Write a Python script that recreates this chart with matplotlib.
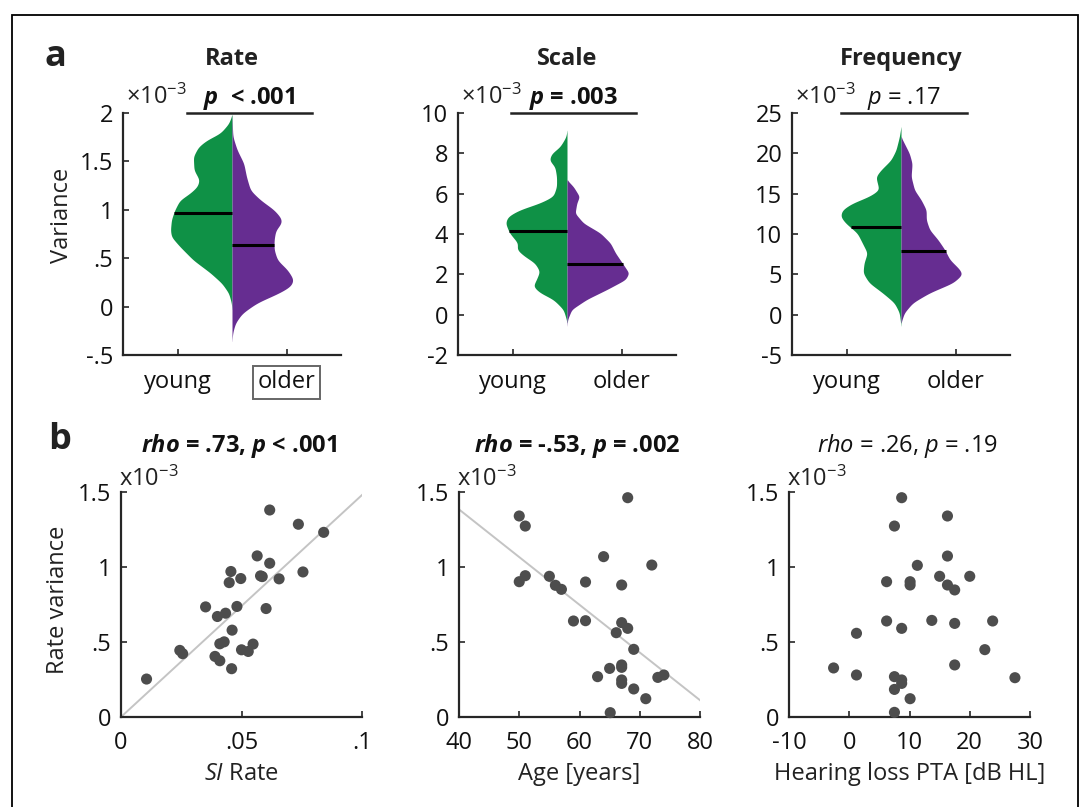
import numpy as np
import matplotlib
matplotlib.use("Agg")
import matplotlib.pyplot as plt
from matplotlib.patches import Rectangle

plt.rcParams['font.family'] = ['Open Sans', 'DejaVu Sans']
plt.rcParams['mathtext.fontset'] = 'custom'
plt.rcParams['mathtext.rm'] = 'Open Sans'
plt.rcParams['mathtext.it'] = 'Open Sans:italic'
plt.rcParams['mathtext.bf'] = 'Open Sans:bold'
plt.rcParams['mathtext.bfit'] = 'Open Sans:bold:italic'

# ---------------- data ----------------
groups = ["young", "older"]
violin_titles = ["Rate", "Scale", "Frequency"]
violin_pvals = [r"$\mathbfit{p}$  < .001", r"$\mathbfit{p}$ = .003", r"$\mathit{p}$ = .17"]
violin_pbold = [True, True, False]

# violin outlines: variance level (x10^-3) and relative density (young / older)
rate_young_y = [1.98, 1.89, 1.79, 1.72, 1.65, 1.55, 1.41, 1.31, 1.24, 1.17, 1.10, 1.00, 0.90, 0.79, 0.72, 0.62, 0.48, 0.35, 0.24, 0.14, 0.04, -0.03]
rate_young_d = [0, 10, 35, 75, 100, 115, 113, 97, 103, 125, 155, 170, 180, 183, 180, 155, 115, 65, 30, 10, 2, 0]
rate_older_y = [1.98, 1.79, 1.75, 1.62, 1.48, 1.34, 1.20, 1.10, 1.00, 0.91, 0.86, 0.79, 0.69, 0.59, 0.48, 0.38, 0.28, 0.21, 0.14, 0.04, -0.07, -0.17, -0.27, -0.36]
rate_older_d = [0, 2, 3, 15, 35, 43, 55, 85, 125, 147, 147, 130, 125, 125, 135, 165, 183, 175, 140, 75, 30, 10, 2, 0]

scale_young_y = [9.14, 8.82, 8.32, 7.99, 7.66, 7.34, 6.84, 6.35, 5.86, 5.53, 5.20, 4.87, 4.54, 4.05, 3.55, 3.22, 2.89, 2.57, 2.15, 1.74, 1.41, 1.09, 0.76, 0.26, -0.23, -0.39]
scale_young_d = [0, 3, 21, 46, 53, 36, 31, 31, 41, 81, 141, 176, 183, 171, 146, 149, 126, 96, 81, 91, 101, 81, 41, 11, 2, 0]
scale_older_y = [6.68, 6.35, 5.86, 5.53, 5.03, 4.54, 4.05, 3.55, 3.06, 2.57, 2.07, 1.74, 1.25, 0.76, 0.26, -0.23, -0.56]
scale_older_d = [0, 19, 37, 29, 24, 49, 99, 129, 144, 164, 184, 174, 119, 59, 14, 2, 0]

freq_young_y = [23.27, 22.04, 20.39, 19.16, 17.93, 17.11, 16.28, 15.46, 14.64, 13.82, 12.99, 12.17, 11.35, 10.12, 8.88, 7.65, 6.41, 5.18, 3.95, 2.71, 1.48, 0.25, -1.40]
freq_young_d = [0, 5, 15, 30, 60, 75, 70, 65, 95, 145, 175, 180, 165, 130, 115, 100, 110, 113, 95, 55, 20, 5, 0]
freq_older_y = [22.04, 21.22, 19.98, 18.75, 17.11, 15.46, 14.23, 12.99, 11.76, 10.53, 9.29, 8.06, 6.83, 5.59, 4.98, 3.95, 2.71, 1.48, 0.25, -0.99]
freq_older_d = [0, 10, 25, 33, 30, 40, 60, 75, 75, 85, 110, 130, 145, 175, 182, 155, 85, 35, 10, 0]

medians_rate = [0.97, 0.64]
medians_scale = [4.14, 2.50]
medians_freq = [10.81, 7.85]

ylim_top = [(-0.5, 2.0), (-2, 10), (-5, 25)]
yticks_top = [[-0.5, 0, 0.5, 1, 1.5, 2], [-2, 0, 2, 4, 6, 8, 10], [-5, 0, 5, 10, 15, 20, 25]]
yticklabels_top = [["-.5", "0", ".5", "1", "1.5", "2"],
                   ["-2", "0", "2", "4", "6", "8", "10"],
                   ["-5", "0", "5", "10", "15", "20", "25"]]

# scatter: rate variance (x10^-3) of older listeners
si_rate = [0.0106, 0.0244, 0.0256, 0.0351, 0.0390, 0.0410, 0.0400, 0.0434, 0.0410, 0.0428, 0.0459, 0.0461, 0.0456, 0.0449, 0.0497,
           0.0481, 0.0500, 0.0528, 0.0548, 0.0565, 0.0579, 0.0586, 0.0602, 0.0617, 0.0617, 0.0656, 0.0736, 0.0755, 0.0841]
var_vs_si = [0.253, 0.444, 0.422, 0.734, 0.404, 0.375, 0.670, 0.692, 0.488, 0.501, 0.322, 0.579, 0.970, 0.896, 0.923,
             0.737, 0.448, 0.437, 0.486, 1.074, 0.941, 0.936, 0.723, 1.025, 1.380, 0.921, 1.285, 0.967, 1.231]

age = [50, 51, 50, 51, 55, 56, 57, 59, 61, 61, 63, 64, 65, 65.1, 66.1, 67, 67, 67, 67, 67, 67, 68, 68, 69, 69, 71, 72, 73, 74]
var_vs_age = [1.34, 1.273, 0.902, 0.942, 0.938, 0.878, 0.851, 0.640, 0.642, 0.900, 0.269, 1.069, 0.324, 0.029, 0.562,
              0.629, 0.880, 0.347, 0.331, 0.247, 0.224, 0.591, 1.462, 0.187, 0.451, 0.122, 1.013, 0.264, 0.280]

pta = [-2.6, 1.2, 1.2, 6.2, 6.2, 7.5, 7.5, 7.5, 7.5, 8.7, 8.7, 8.7, 8.7, 10.1, 10.1, 10.1, 11.3, 13.7, 15.0,
       16.3, 16.3, 16.3, 17.5, 17.5, 17.5, 20.0, 22.5, 23.8, 27.5]
var_vs_pta = [0.327, 0.558, 0.280, 0.902, 0.640, 1.273, 0.269, 0.184, 0.031, 1.462, 0.591, 0.247, 0.224, 0.902, 0.880,
              0.122, 1.011, 0.644, 0.938, 1.340, 1.073, 0.880, 0.847, 0.624, 0.347, 0.938, 0.449, 0.640, 0.262]

fit_slope = [14.8, -0.0318]
fit_intercept = [0.0, 2.656]

scatter_titles = [r"$\mathbfit{rho}$ = .73, $\mathbfit{p}$ < .001",
                  r"$\mathbfit{rho}$ = -.53, $\mathbfit{p}$ = .002",
                  r"$\mathit{rho}$ = .26, $\mathit{p}$ = .19"]
scatter_bold = [True, True, False]
scatter_xlabels = [r"$\mathit{SI}$ Rate", "Age [years]", "Hearing loss PTA [dB HL]"]
xlim_b = [(0, 0.1), (40, 80), (-10, 30)]
xticks_b = [[0, 0.05, 0.1], [40, 50, 60, 70, 80], [-10, 0, 10, 20, 30]]
xticklabels_b = [["0", ".05", ".1"], ["40", "50", "60", "70", "80"], ["-10", "0", "10", "20", "30"]]
yticks_b = [0, 0.5, 1, 1.5]
yticklabels_b = ["0", ".5", "1", "1.5"]

# ---------------- style ----------------
W, H = 1090, 807
GREEN = "#0f9146"
PURPLE = "#662d91"
DOT = "#4d4d4d"
FITC = "#c4c4c4"
AXC = "#262626"
FS = 17
DENS_SCALE = 1.0 / 324.0

def fx(px):
    return px / W

def fy(py):
    return 1 - py / H

fig = plt.figure(figsize=(W / 100, H / 100), dpi=100)

def style_axes(ax):
    for s in ["top", "right"]:
        ax.spines[s].set_visible(False)
    for s in ["left", "bottom"]:
        ax.spines[s].set_color(AXC)
        ax.spines[s].set_linewidth(1.6)
    ax.tick_params(direction="in", length=4, width=1.2, color=AXC, labelsize=FS, labelcolor="#111111")

def smooth_outline(yv, dv):
    yv = np.asarray(yv, float)
    dv = np.asarray(dv, float)
    order = np.argsort(yv)
    yv, dv = yv[order], dv[order]
    grid = np.linspace(yv[0], yv[-1], 600)
    d = np.interp(grid, yv, dv)
    k = np.exp(-0.5 * (np.arange(-20, 21) / 7.0) ** 2)
    k /= k.sum()
    dp = np.pad(d, 20, mode="edge")
    d = np.convolve(dp, k, mode="valid")
    return grid, d

violin_sets = [
    (rate_young_y, rate_young_d, rate_older_y, rate_older_d, medians_rate),
    (scale_young_y, scale_young_d, scale_older_y, scale_older_d, medians_scale),
    (freq_young_y, freq_young_d, freq_older_y, freq_older_d, medians_freq),
]

top_left = [123, 458, 792]
bar_span = [(187, 312), (511, 636), (841, 967)]
for i in range(3):
    L = top_left[i]
    ax = fig.add_axes([fx(L), fy(355), fx(218), (355 - 113) / H])
    style_axes(ax)
    yy, yd, oy, od, med = violin_sets[i]
    c = 1.5
    gy, gd = smooth_outline(yy, yd)
    ax.fill_betweenx(gy, c - gd * DENS_SCALE, c, color=GREEN, lw=0)
    py_, pd_ = smooth_outline(oy, od)
    ax.fill_betweenx(py_, c, c + pd_ * DENS_SCALE, color=PURPLE, lw=0)
    wg = np.interp(med[0], gy, gd) * DENS_SCALE
    wp = np.interp(med[1], py_, pd_) * DENS_SCALE
    ax.plot([c - wg, c], [med[0], med[0]], color="black", lw=2.2, solid_capstyle="butt")
    ax.plot([c, c + wp], [med[1], med[1]], color="black", lw=2.2, solid_capstyle="butt")
    ax.set_xlim(0.5, 2.5)
    ax.set_ylim(*ylim_top[i])
    ax.set_xticks([1, 2])
    ax.set_xticklabels(groups)
    ax.set_yticks(yticks_top[i])
    ax.set_yticklabels(yticklabels_top[i])
    ax.tick_params(axis="x", pad=11)
    ax.tick_params(axis="y", pad=7)
    if i == 0:
        lab = ax.get_xticklabels()[1]
        lab.set_bbox(dict(boxstyle="square,pad=0.18", facecolor="none", edgecolor="#666666", lw=1.4))
    # significance bar
    b0, b1 = bar_span[i]
    fig.add_artist(plt.Line2D([fx(b0), fx(b1)], [fy(113), fy(113)], color="#222222", lw=1.8))
    fig.text(fx((b0 + b1) / 2), fy(104), violin_pvals[i], ha="center", va="baseline", fontsize=FS,
             fontweight="bold" if violin_pbold[i] else "normal", color="#111111")
    fig.text(fx(L + 109), fy(59), violin_titles[i], ha="center", va="center", fontsize=FS,
             fontweight="bold", color="#222222")
    fig.text(fx(L + 3), fy(104), "×10$^{-3}$", ha="left", va="baseline", fontsize=FS, color="#222222")

fig.text(fx(62), fy(215), "Variance", rotation=90, ha="center", va="center", fontsize=FS, color="#222222")

# ---------------- bottom row ----------------
bot_left = [121, 459, 789]
xs = [si_rate, age, pta]
ys = [var_vs_si, var_vs_age, var_vs_pta]
for i in range(3):
    L = bot_left[i]
    ax = fig.add_axes([fx(L), fy(717), fx(241), (717 - 492) / H])
    style_axes(ax)
    ax.set_xlim(*xlim_b[i])
    ax.set_ylim(0, 1.5)
    if i < 2:
        ax.axline((0, fit_intercept[i]), slope=fit_slope[i], color=FITC, lw=1.4, zorder=1)
    ax.scatter(xs[i], ys[i], s=64, color=DOT, edgecolors="none", zorder=3, clip_on=False)
    ax.set_xticks(xticks_b[i])
    ax.set_xticklabels(xticklabels_b[i])
    ax.set_yticks(yticks_b)
    ax.set_yticklabels(yticklabels_b)
    ax.tick_params(axis="x", pad=10)
    ax.tick_params(axis="y", pad=7)
    ax.set_xlabel(scatter_xlabels[i], fontsize=FS, color="#222222", labelpad=5)
    fig.text(fx(L + 118), fy(446), scatter_titles[i], ha="center", va="center", fontsize=FS,
             fontweight="bold" if scatter_bold[i] else "normal", color="#111111")
    fig.text(fx(L - 2), fy(486), "x10$^{-3}$", ha="left", va="baseline", fontsize=FS, color="#222222")

fig.text(fx(58), fy(600), "Rate variance", rotation=90, ha="center", va="center", fontsize=FS, color="#222222")

# panel letters
fig.text(fx(55), fy(57), "a", ha="center", va="center", fontsize=26, fontweight="bold", color="#222222")
fig.text(fx(60), fy(440), "b", ha="center", va="center", fontsize=26, fontweight="bold", color="#222222")

# outer frame
fig.add_artist(Rectangle((fx(12), -0.05), fx(1078 - 12), fy(15) + 0.05, transform=fig.transFigure,
                         fill=False, edgecolor="black", lw=1.3))

fig.savefig("out.png", dpi=100)
